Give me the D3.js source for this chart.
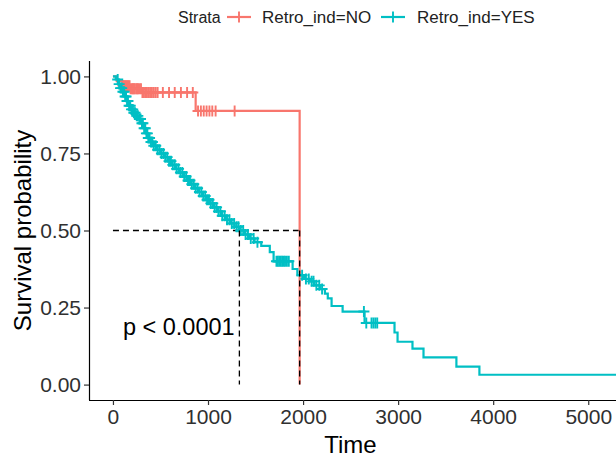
<!DOCTYPE html>
<html>
<head>
<meta charset="utf-8">
<script src="https://cdn.jsdelivr.net/npm/d3@7"></script>
<style>
  body { margin: 0; background: #fff; }
  svg { display: block; font-family: "Liberation Sans", Arial, sans-serif; }
</style>
</head>
<body>
<svg width="616" height="459"></svg>
<script>
// strata
const strata = ["Retro_ind=NO", "Retro_ind=YES"];
const colors = ["#F8766D", "#00BFC4"];

// step points [time, survival]
const stepsNo = [
  [0, 1], [40, 0.985], [100, 0.97], [180, 0.96], [300, 0.948],
  [870, 0.888], [1964, 0]
];
const censorNo = [
  105, 115, 125, 135, 145, 155, 165, 175, 185, 200, 210, 220, 230, 245,
  255, 265, 280, 295, 310, 325, 340, 355, 370, 390, 410, 430, 450, 470,
  525, 590, 650, 715, 780, 840,
  895, 925, 955, 985, 1015, 1045, 1080, 1280
];

const stepsYes = [
  [0, 1], [30, 0.99], [55, 0.975], [75, 0.962], [95, 0.95], [120, 0.935],
  [140, 0.92], [165, 0.905], [190, 0.893], [215, 0.882], [245, 0.872],
  [270, 0.862], [300, 0.848], [320, 0.832], [345, 0.815], [365, 0.8],
  [395, 0.787], [430, 0.775], [465, 0.762], [500, 0.75], [540, 0.738],
  [580, 0.725], [620, 0.713], [660, 0.7], [700, 0.688], [740, 0.675],
  [780, 0.662], [820, 0.65], [860, 0.637], [900, 0.625], [945, 0.612],
  [985, 0.6], [1020, 0.588], [1060, 0.575], [1100, 0.562], [1140, 0.548],
  [1185, 0.535], [1230, 0.523], [1280, 0.512], [1330, 0.5], [1380, 0.487],
  [1430, 0.474], [1490, 0.462], [1560, 0.45], [1650, 0.43], [1690, 0.4],
  [1890, 0.375], [1940, 0.355], [2010, 0.343], [2070, 0.335], [2120, 0.322],
  [2180, 0.31], [2230, 0.295], [2260, 0.28], [2300, 0.255], [2416, 0.237],
  [2647, 0.2], [2962, 0.169], [2994, 0.139], [3151, 0.117], [3267, 0.088],
  [3613, 0.058], [3855, 0.032], [5600, 0.032]
];
const censorYes = [
  50, 65, 80, 92, 105, 118, 128, 138, 148, 158, 170, 182, 195, 208, 220,
  232, 250, 262, 278, 290, 305, 315, 328, 340, 352, 362, 372, 385, 400,
  415, 430, 450, 470, 490, 510, 530, 550, 570, 590, 610, 630, 650, 670,
  690, 710, 730, 750, 770, 790, 810, 830, 850, 870, 890, 910, 930, 950,
  970, 990, 1010, 1030, 1050, 1070, 1090, 1110, 1130, 1150, 1175, 1200,
  1225, 1250, 1275, 1300, 1320, 1345, 1370, 1395, 1420, 1450, 1480, 1520,
  1720, 1735, 1750, 1765, 1780, 1795, 1810, 1830, 1850, 1990, 2030, 2060,
  2090, 2110, 2140, 2170, 2200, 2640, 2665, 2720, 2740, 2760, 2780
];

const xTicks = [0, 1000, 2000, 3000, 4000, 5000];
const yTicks = [0, 0.25, 0.5, 0.75, 1];
const pText = "p < 0.0001";

const svg = d3.select("svg");
const panel = { left: 89, right: 616, top: 61, bottom: 400 };

const x = d3.scaleLinear().domain([-252, 5292]).range([panel.left, panel.right]);
const y = d3.scaleLinear().domain([-0.05, 1.05]).range([panel.bottom, panel.top]);

svg.append("clipPath").attr("id", "clip")
  .append("rect")
  .attr("x", panel.left).attr("y", 0)
  .attr("width", panel.right - panel.left).attr("height", panel.bottom);

function survAt(steps, t) {
  let s = 1;
  for (const p of steps) { if (p[0] <= t) s = p[1]; }
  return s;
}
function medianOf(steps) {
  const hit = steps.find((p) => p[1] <= 0.5);
  return hit ? hit[0] : null;
}

const plot = svg.append("g").attr("clip-path", "url(#clip)");

// median lines
const medNo = medianOf(stepsNo);
const medYes = medianOf(stepsYes);
const dash = "6,4";
plot.append("line")
  .attr("x1", x(0)).attr("x2", x(Math.max(medNo, medYes)))
  .attr("y1", y(0.5)).attr("y2", y(0.5))
  .attr("stroke", "#000").attr("stroke-width", 1.3).attr("stroke-dasharray", dash);

const line = d3.line()
  .x((d) => x(d[0]))
  .y((d) => y(d[1]))
  .curve(d3.curveStepAfter);

const groups = [
  { steps: stepsNo, censor: censorNo, color: colors[0] },
  { steps: stepsYes, censor: censorYes, color: colors[1] }
];

const plusPath = "M-5.5,0H5.5M0,-5.5V5.5";

groups.forEach((g) => {
  plot.append("path")
    .datum(g.steps)
    .attr("fill", "none")
    .attr("stroke", g.color)
    .attr("stroke-width", 2.2)
    .attr("d", line);

  plot.selectAll(null)
    .data(g.censor)
    .enter()
    .append("path")
    .attr("transform", (t) => "translate(" + x(t) + "," + y(survAt(g.steps, t)) + ")")
    .attr("d", plusPath)
    .attr("stroke", g.color)
    .attr("stroke-width", 1.9)
    .attr("fill", "none");
});

[medYes, medNo].forEach((m) => {
  plot.append("line")
    .attr("x1", x(m)).attr("x2", x(m))
    .attr("y1", y(0.5)).attr("y2", y(0))
    .attr("stroke", "#000").attr("stroke-width", 1.3).attr("stroke-dasharray", dash);
});

// axes
const xAxis = svg.append("g")
  .attr("transform", "translate(0," + panel.bottom + ")")
  .call(d3.axisBottom(x).tickValues(xTicks).tickSize(5).tickSizeOuter(0).tickPadding(4).tickFormat(d3.format("d")));
const yAxis = svg.append("g")
  .attr("transform", "translate(" + panel.left + ",0)")
  .call(d3.axisLeft(y).tickValues(yTicks).tickSize(5).tickSizeOuter(0).tickPadding(3).tickFormat(d3.format(".2f")));

[xAxis, yAxis].forEach((a) => {
  a.select(".domain").attr("stroke", "#000").attr("stroke-width", 1.2);
  a.selectAll(".tick line").attr("stroke", "#333").attr("stroke-width", 1.2);
  a.selectAll(".tick text").attr("fill", "#303030").style("font-size", "21px")
    .style("font-family", "'Liberation Sans', Arial, sans-serif");
});
xAxis.select(".domain").attr("d", "M" + panel.left + ",0.5H" + panel.right);
yAxis.select(".domain").attr("d", "M0.5," + panel.top + "V" + panel.bottom);

// titles
svg.append("text")
  .attr("x", (panel.left + panel.right) / 2 - 2)
  .attr("y", 453)
  .attr("text-anchor", "middle")
  .style("font-size", "24px")
  .text("Time");

svg.append("text")
  .attr("transform", "rotate(-90)")
  .attr("x", -(panel.top + panel.bottom) / 2)
  .attr("y", 31)
  .attr("text-anchor", "middle")
  .style("font-size", "24px")
  .text("Survival probability");

svg.append("text")
  .attr("x", x(105))
  .attr("y", y(0.16))
  .style("font-size", "23.5px")
  .text(pText);

// legend
const leg = svg.append("g");
leg.append("text").attr("x", 178).attr("y", 23).style("font-size", "16px").attr("fill", "#222").text("Strata");
const keyX = [227, 381];
const labX = [262, 417];
strata.forEach((s, i) => {
  leg.append("line")
    .attr("x1", keyX[i]).attr("x2", keyX[i] + 24)
    .attr("y1", 17).attr("y2", 17)
    .attr("stroke", colors[i]).attr("stroke-width", 2.2);
  leg.append("path")
    .attr("transform", "translate(" + (keyX[i] + 12) + ",17)")
    .attr("d", plusPath)
    .attr("stroke", colors[i]).attr("stroke-width", 1.9);
  leg.append("text")
    .attr("x", labX[i]).attr("y", 23)
    .style("font-size", "17px")
    .attr("fill", "#222")
    .text(s);
});
</script>
</body>
</html>
